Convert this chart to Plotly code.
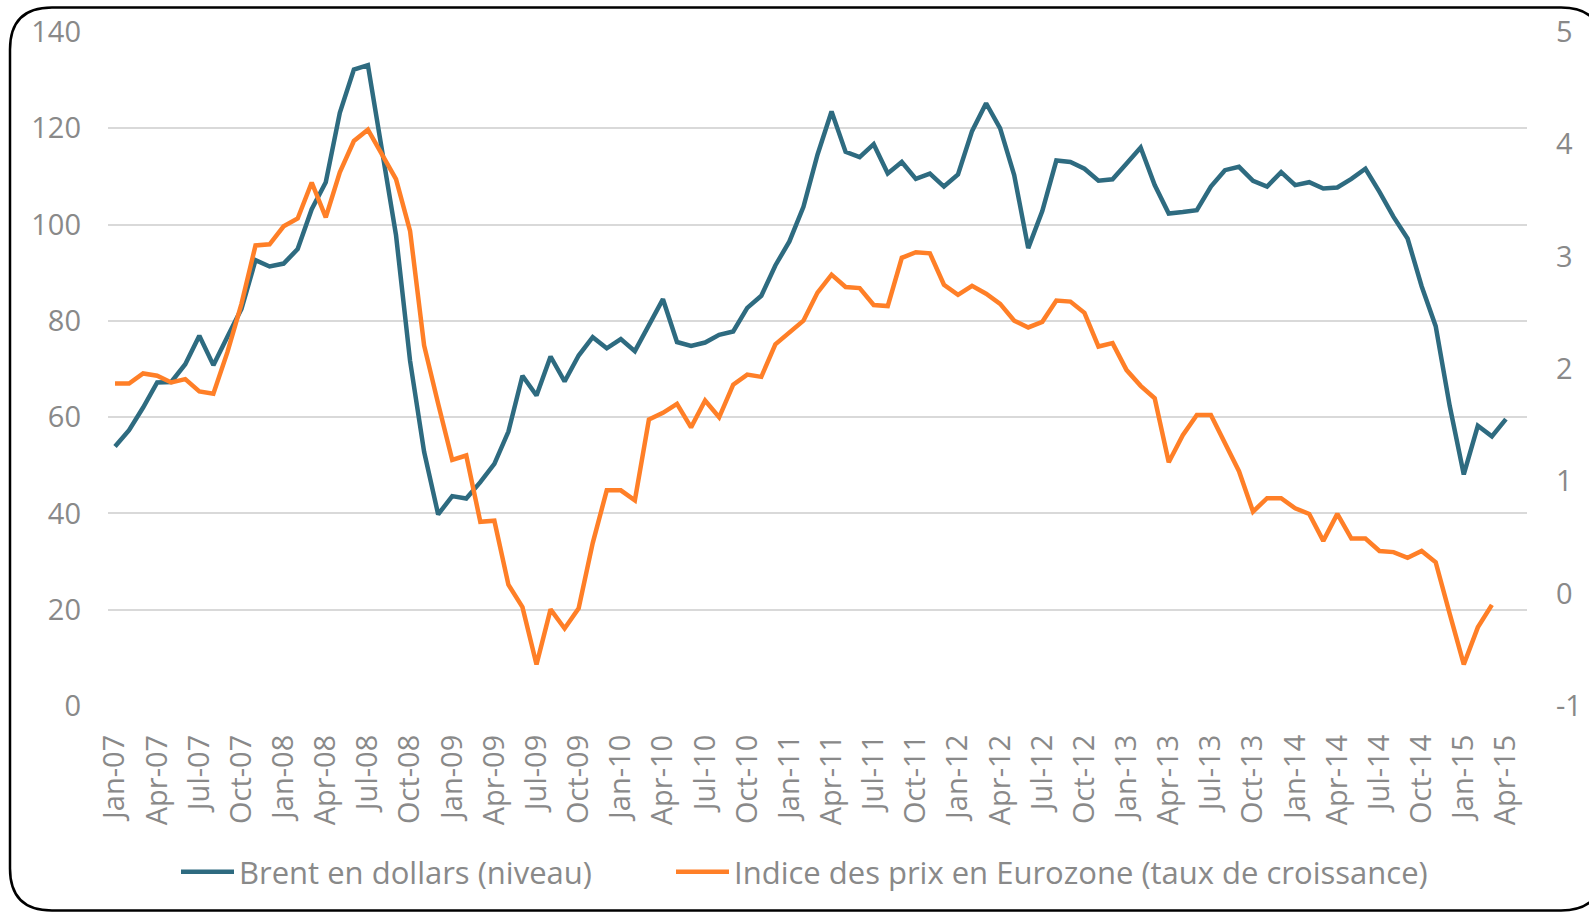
import plotly.graph_objects as go

# ---------------- data ----------------
months = [
    "Jan-07", "Feb-07", "Mar-07", "Apr-07", "May-07", "Jun-07", "Jul-07", "Aug-07", "Sep-07", "Oct-07", "Nov-07", "Dec-07",
    "Jan-08", "Feb-08", "Mar-08", "Apr-08", "May-08", "Jun-08", "Jul-08", "Aug-08", "Sep-08", "Oct-08", "Nov-08", "Dec-08",
    "Jan-09", "Feb-09", "Mar-09", "Apr-09", "May-09", "Jun-09", "Jul-09", "Aug-09", "Sep-09", "Oct-09", "Nov-09", "Dec-09",
    "Jan-10", "Feb-10", "Mar-10", "Apr-10", "May-10", "Jun-10", "Jul-10", "Aug-10", "Sep-10", "Oct-10", "Nov-10", "Dec-10",
    "Jan-11", "Feb-11", "Mar-11", "Apr-11", "May-11", "Jun-11", "Jul-11", "Aug-11", "Sep-11", "Oct-11", "Nov-11", "Dec-11",
    "Jan-12", "Feb-12", "Mar-12", "Apr-12", "May-12", "Jun-12", "Jul-12", "Aug-12", "Sep-12", "Oct-12", "Nov-12", "Dec-12",
    "Jan-13", "Feb-13", "Mar-13", "Apr-13", "May-13", "Jun-13", "Jul-13", "Aug-13", "Sep-13", "Oct-13", "Nov-13", "Dec-13",
    "Jan-14", "Feb-14", "Mar-14", "Apr-14", "May-14", "Jun-14", "Jul-14", "Aug-14", "Sep-14", "Oct-14", "Nov-14", "Dec-14",
    "Jan-15", "Feb-15", "Mar-15", "Apr-15", "May-15",
]

tick_labels = [
    "Jan-07", "Apr-07", "Jul-07", "Oct-07", "Jan-08", "Apr-08", "Jul-08", "Oct-08",
    "Jan-09", "Apr-09", "Jul-09", "Oct-09", "Jan-10", "Apr-10", "Jul-10", "Oct-10",
    "Jan-11", "Apr-11", "Jul-11", "Oct-11", "Jan-12", "Apr-12", "Jul-12", "Oct-12",
    "Jan-13", "Apr-13", "Jul-13", "Oct-13", "Jan-14", "Apr-14", "Jul-14", "Oct-14",
    "Jan-15", "Apr-15",
]

left_ticks = [0, 20, 40, 60, 80, 100, 120, 140]
right_ticks = [-1, 0, 1, 2, 3, 4, 5]
right_tick_text = ["-1", "0", "1", "2", "3", "4", "5"]

# Brent en dollars (niveau) - left axis
brent = [
    53.9, 57.3, 62.0, 67.2, 67.3, 71.0, 76.9, 70.8, 76.7, 82.5, 92.6, 91.3,
    91.9, 94.9, 103.2, 108.8, 123.2, 132.2, 133.1, 115.5, 97.8, 71.7, 52.8, 39.8,
    43.6, 43.1, 46.5, 50.3, 57.0, 68.6, 64.5, 72.6, 67.4, 72.8, 76.6, 74.3,
    76.2, 73.7, 79.1, 84.5, 75.6, 74.8, 75.5, 77.1, 77.8, 82.7, 85.2, 91.5,
    96.5, 103.7, 114.5, 123.5, 115.1, 114.0, 116.7, 110.6, 113.0, 109.5, 110.6, 107.9,
    110.4, 119.4, 125.2, 120.0, 110.3, 95.1, 102.8, 113.3, 113.0, 111.6, 109.1, 109.4,
    112.7, 116.0, 108.2, 102.3, 102.6, 103.0, 107.9, 111.3, 112.0, 109.1, 107.9, 110.9,
    108.2, 108.8, 107.5, 107.7, 109.5, 111.6, 106.8, 101.6, 97.1, 87.2, 78.9, 62.3,
    48.1, 58.2, 56.0, 59.6, None,
]

# Indice des prix en Eurozone (taux de croissance) - right axis
hicp = [
    1.87, 1.87, 1.96, 1.94, 1.88, 1.91, 1.80, 1.78, 2.15, 2.58, 3.10, 3.11,
    3.27, 3.34, 3.66, 3.35, 3.75, 4.03, 4.13, 3.90, 3.69, 3.23, 2.21, 1.69,
    1.19, 1.23, 0.64, 0.65, 0.08, -0.12, -0.63, -0.14, -0.31, -0.13, 0.45, 0.92,
    0.92, 0.83, 1.55, 1.61, 1.69, 1.48, 1.72, 1.57, 1.86, 1.95, 1.93, 2.22,
    2.33, 2.43, 2.68, 2.84, 2.73, 2.72, 2.57, 2.56, 2.99, 3.04, 3.03, 2.75,
    2.66, 2.74, 2.67, 2.58, 2.43, 2.37, 2.42, 2.61, 2.60, 2.50, 2.20, 2.23,
    1.99, 1.85, 1.74, 1.17, 1.41, 1.59, 1.59, 1.33, 1.09, 0.73, 0.85, 0.85,
    0.76, 0.71, 0.47, 0.71, 0.49, 0.49, 0.38, 0.37, 0.32, 0.38, 0.28, -0.18,
    -0.63, -0.30, -0.10, None, None,
]

name_brent = "Brent en dollars (niveau)"
name_hicp = "Indice des prix en Eurozone (taux de croissance)"

# ---------------- layout helpers ----------------
W, H = 1589, 913
ML, MR, MT, MB = 108, 62, 32, 207
PW, PH = W - ML - MR, H - MT - MB


def px(x):
    return (x - ML) / PW


def py(y):
    return (H - MB - y) / PH


FONT = "Open Sans, DejaVu Sans, sans-serif"
GREY = "#898989"
BLUE = "#2E6B80"
ORANGE = "#FF7F27"
TICK_SIZE = 29
LEG_SIZE = 31

fig = go.Figure()
fig.add_trace(go.Scatter(
    x=months, y=brent, name=name_brent, mode="lines",
    line=dict(color=BLUE, width=4.5), yaxis="y", legend="legend",
))
fig.add_trace(go.Scatter(
    x=months, y=hicp, name=name_hicp, mode="lines",
    line=dict(color=ORANGE, width=4.5), yaxis="y2", legend="legend2",
))

# rounded frame
x0, y0, x1, y1, r = 10, 7.5, 1603, 910.5, 42
path = (
    f"M{px(x0 + r)},{py(y0)} L{px(x1 - r)},{py(y0)} "
    f"Q{px(x1)},{py(y0)} {px(x1)},{py(y0 + r)} "
    f"L{px(x1)},{py(y1 - r)} Q{px(x1)},{py(y1)} {px(x1 - r)},{py(y1)} "
    f"L{px(x0 + r)},{py(y1)} Q{px(x0)},{py(y1)} {px(x0)},{py(y1 - r)} "
    f"L{px(x0)},{py(y0 + r)} Q{px(x0)},{py(y0)} {px(x0 + r)},{py(y0)} Z"
)

legend_common = dict(
    orientation="h", xanchor="left", yanchor="middle", y=py(872),
    font=dict(family=FONT, size=LEG_SIZE, color=GREY),
    itemwidth=53, bgcolor="rgba(0,0,0,0)",
)

fig.update_layout(
    width=W, height=H,
    margin=dict(l=ML, r=MR, t=MT, b=MB, pad=0, autoexpand=False),
    paper_bgcolor="white", plot_bgcolor="white",
    font=dict(family=FONT, color=GREY),
    showlegend=True,
    legend=dict(x=px(176), **legend_common),
    legend2=dict(x=px(671), **legend_common),
    xaxis=dict(
        type="category", categoryorder="array", categoryarray=months,
        range=[-0.5, len(months) - 0.5],
        tickmode="array", tickvals=tick_labels, ticktext=tick_labels,
        tickangle=-90, tickfont=dict(family=FONT, size=TICK_SIZE, color=GREY),
        showgrid=False, showline=False, zeroline=False, ticks="",
        ticklabelstandoff=22, automargin=False,
    ),
    yaxis=dict(
        range=[0, 140], tickmode="array", tickvals=left_ticks,
        ticktext=[str(v) for v in left_ticks],
        showgrid=True, gridcolor="#d9d9d9", gridwidth=1.5,
        zeroline=False, showline=False, ticks="",
        tickfont=dict(family=FONT, size=TICK_SIZE, color=GREY),
        ticklabelstandoff=26, automargin=False,
    ),
    yaxis2=dict(
        range=[-1, 5], tickmode="array", tickvals=right_ticks, ticktext=right_tick_text,
        overlaying="y", side="right",
        showgrid=False, zeroline=False, showline=False, ticks="",
        tickfont=dict(family=FONT, size=TICK_SIZE, color=GREY),
        ticklabelstandoff=28, automargin=False,
    ),
    shapes=[dict(type="path", path=path, xref="paper", yref="paper",
                 line=dict(color="black", width=2.5), fillcolor="rgba(0,0,0,0)")],
)

fig.write_html(
    "out.html",
    config={"displayModeBar": False},
    post_script="document.body.style.margin='0';document.body.style.overflow='hidden';",
)
